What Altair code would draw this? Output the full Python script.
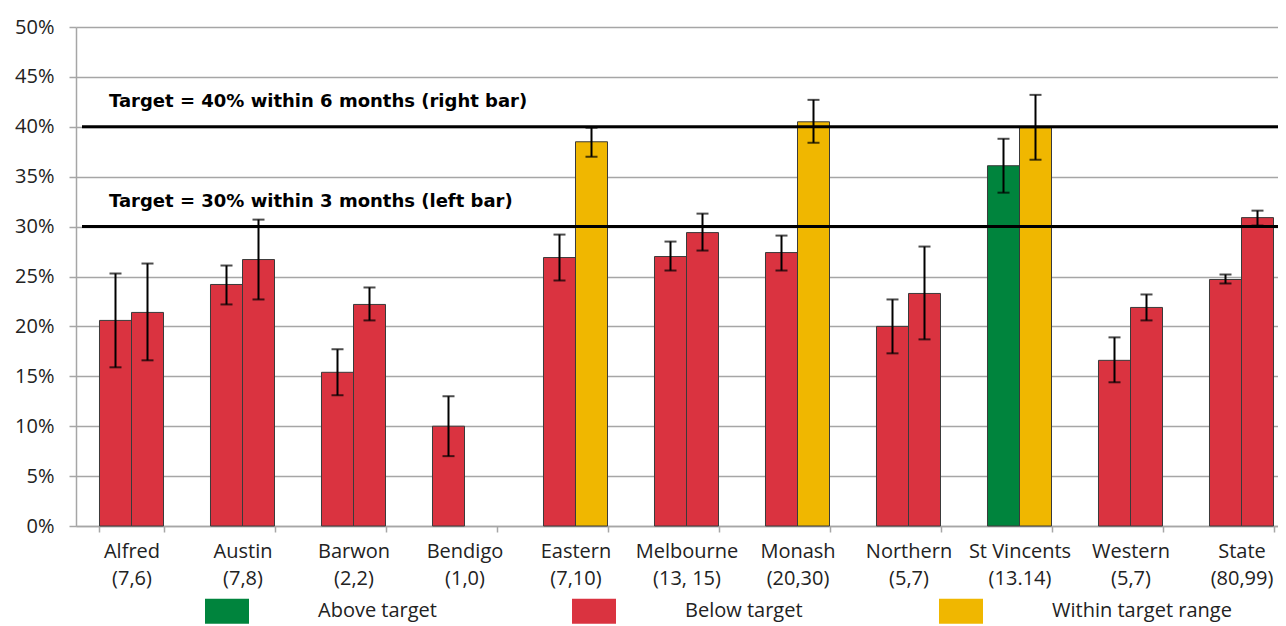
import altair as alt
import pandas as pd

hospitals = ["Alfred", "Austin", "Barwon", "Bendigo", "Eastern", "Melbourne",
             "Monash", "Northern", "St Vincents", "Western", "State"]
counts = ["(7,6)", "(7,8)", "(2,2)", "(1,0)", "(7,10)", "(13, 15)",
          "(20,30)", "(5,7)", "(13.14)", "(5,7)", "(80,99)"]

# left bar = within 3 months, right bar = within 6 months (percent)
left_vals = [20.6, 24.2, 15.4, 10.0, 26.9, 27.0, 27.4, 20.0, 36.1, 16.6, 24.7]
left_lo = [15.9, 22.2, 13.1, 7.0, 24.6, 25.6, 25.6, 17.3, 33.4, 14.4, 24.3]
left_hi = [25.3, 26.1, 17.7, 13.0, 29.2, 28.5, 29.1, 22.7, 38.8, 18.9, 25.2]
left_status = ["Below target"] * 8 + ["Above target"] + ["Below target"] * 2

right_vals = [21.4, 26.7, 22.2, None, 38.5, 29.4, 40.5, 23.3, 39.9, 21.9, 30.9]
right_lo = [16.6, 22.7, 20.6, None, 37.0, 27.6, 38.4, 18.7, 36.7, 20.6, 30.1]
right_hi = [26.3, 30.7, 23.9, None, 39.9, 31.3, 42.7, 28.0, 43.2, 23.2, 31.6]
right_status = ["Below target", "Below target", "Below target", "Below target",
                "Within target  range", "Below target", "Within target  range",
                "Below target", "Within target  range", "Below target", "Below target"]

statuses = ["Above target", "Below target", "Within target  range"]
status_colors = ["#00843D", "#DA3340", "#F0B700"]

targets = [30, 40]
target_texts = ["Target = 30% within 3 months (left bar)",
                "Target = 40% within 6 months (right bar)"]

y_ticks = list(range(0, 51, 5))

labels = [f"{h}\n{c}" for h, c in zip(hospitals, counts)]

rows = []
for i, lab in enumerate(labels):
    rows.append({"cat": lab, "side": "left", "value": left_vals[i],
                 "lo": left_lo[i], "hi": left_hi[i], "status": left_status[i]})
    if right_vals[i] is not None:
        rows.append({"cat": lab, "side": "right", "value": right_vals[i],
                     "lo": right_lo[i], "hi": right_hi[i], "status": right_status[i]})
df = pd.DataFrame(rows)
tdf = pd.DataFrame({"t": targets, "text": target_texts})

FONT = "Open Sans"
GRID = "#A6A6A6"
W = 1202
H = 499
PI = 0.4234

xscale = alt.Scale(domain=labels, range=[0, 1221], paddingInner=PI, paddingOuter=PI / 2)
yscale = alt.Scale(domain=[0, 50], nice=False)

x_enc = alt.X("cat:N", scale=xscale, sort=labels, title=None,
              axis=alt.Axis(labelExpr="isValid(datum.value) ? split(datum.value, '\\n') : ''",
                            labelAngle=0,
                            tickBand="extent", tickSize=6, tickColor=GRID, tickWidth=1.5,
                            domainColor=GRID, domainWidth=1.5, labelPadding=9,
                            labelFont=FONT, labelFontSize=20, labelColor="#222222",
                            labelLineHeight=27, labelBaseline="top", labelLimit=300,
                            grid=False))
xo_enc = alt.XOffset("side:N", scale=alt.Scale(domain=["left", "right"]))

bars = alt.Chart(df).mark_bar(stroke="#3A3A3A", strokeWidth=1).encode(
    x=x_enc,
    xOffset=xo_enc,
    y=alt.Y("value:Q", scale=yscale, title=None,
            axis=alt.Axis(values=y_ticks, labelExpr="datum.value + '%'",
                          tickSize=7, tickColor=GRID, tickWidth=1.5,
                          domainColor=GRID, domainWidth=1.5,
                          gridColor=GRID, gridWidth=1.5, labelPadding=15,
                          labelFont=FONT, labelFontSize=20, labelColor="#222222")),
    color=alt.Color("status:N", scale=alt.Scale(domain=statuses, range=status_colors),
                    legend=alt.Legend(orient="none", legendX=129, legendY=562,
                                      direction="horizontal", title=None,
                                      symbolType="M-1,-0.57H1V0.57H-1Z", symbolSize=1936,
                                      symbolStrokeWidth=0, symbolOpacity=1,
                                      labelFont=FONT, labelFontSize=20,
                                      labelColor="#222222", labelOffset=69,
                                      columnPadding=68, gridAlign="all",
                                      labelLimit=400)),
)

err = alt.Chart(df).mark_rule(color="black", strokeWidth=2).encode(
    x=alt.X("cat:N", scale=xscale, sort=labels),
    xOffset=xo_enc,
    y=alt.Y("lo:Q", scale=yscale),
    y2="hi:Q",
)
cap_lo = alt.Chart(df).mark_tick(color="black", thickness=2, size=12, orient="horizontal").encode(
    x=alt.X("cat:N", scale=xscale, sort=labels),
    xOffset=xo_enc,
    y=alt.Y("lo:Q", scale=yscale),
)
cap_hi = alt.Chart(df).mark_tick(color="black", thickness=2, size=12, orient="horizontal").encode(
    x=alt.X("cat:N", scale=xscale, sort=labels),
    xOffset=xo_enc,
    y=alt.Y("hi:Q", scale=yscale),
)

target_lines = alt.Chart(tdf).mark_rule(color="black", strokeWidth=3).encode(
    y=alt.Y("t:Q", scale=yscale),
    x=alt.value(6),
    x2=alt.value(W),
)
target_labels = alt.Chart(tdf).mark_text(
    align="left", baseline="middle", dy=-25, font="DejaVu Sans", fontSize=18,
    fontWeight="bold", color="black").encode(
    y=alt.Y("t:Q", scale=yscale),
    x=alt.value(33),
    text="text:N",
)

chart = alt.layer(bars, err, cap_lo, cap_hi, target_lines, target_labels).properties(
    width=W, height=H,
    autosize=alt.AutoSizeParams(type="none"),
    padding={"left": 68, "top": 19, "right": 0, "bottom": 100},
).configure_view(strokeOpacity=0)

chart.save("out.html", embed_options={"renderer": "svg", "actions": False})
